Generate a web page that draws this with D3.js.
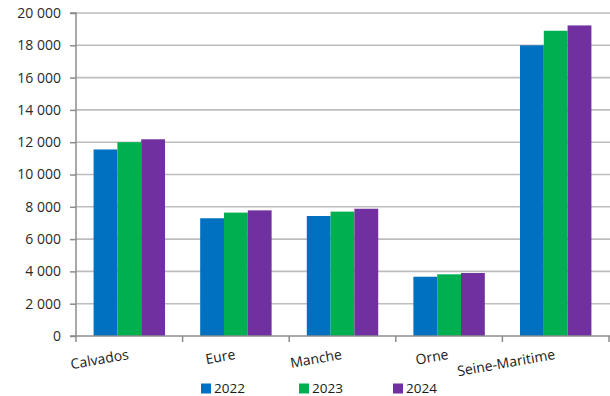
<!DOCTYPE html>
<html><head><meta charset="utf-8">
<script src="https://cdn.jsdelivr.net/npm/d3@7"></script>
<style>
html,body{margin:0;padding:0;background:#fff;}
svg{display:block;font-family:"Open Sans",Lato,sans-serif;}
</style></head>
<body>
<script>
const categories = ["Calvados","Eure","Manche","Orne","Seine-Maritime"];
const series = ["2022","2023","2024"];
const values2022 = [11550, 7290, 7430, 3670, 18000];
const values2023 = [12000, 7640, 7700, 3820, 18900];
const values2024 = [12180, 7780, 7880, 3900, 19230];
const yTicks = [0,2000,4000,6000,8000,10000,12000,14000,16000,18000,20000];
const colors = ["#0070C0","#00B050","#7030A0"];

const W=610,H=396;
const mLeft=76,mRight=609,mTop=13,mBottom=336;
const svg=d3.select("body").append("svg").attr("width",W).attr("height",H);

const x=d3.scaleBand().domain(categories).range([mLeft,mRight]).paddingInner(0.33).paddingOuter(0.165);
const xs=d3.scaleBand().domain(series).range([0,x.bandwidth()]);
const y=d3.scaleLinear().domain([0,20000]).range([mBottom,mTop]);
const data=[values2022,values2023,values2024];

// gridlines
svg.append("g").selectAll("line").data(yTicks.filter(d=>d>0)).join("line")
  .attr("x1",mLeft).attr("x2",W).attr("y1",d=>y(d)).attr("y2",d=>y(d))
  .attr("stroke","#bdbdbd").attr("stroke-width",1.6);

// bars
categories.forEach((c,i)=>{
  series.forEach((s,j)=>{
    svg.append("rect").attr("x",x(c)+xs(s)).attr("width",xs.bandwidth())
      .attr("y",y(data[j][i])).attr("height",y(0)-y(data[j][i]))
      .attr("fill",colors[j]);
  });
});

// y axis
const ya=d3.axisLeft(y).tickValues(yTicks).tickSize(6).tickPadding(9)
  .tickFormat(d=>d3.format(",")(d).replace(/,/g,"\u00a0"));
const gy=svg.append("g").attr("transform",`translate(${mLeft},0)`).call(ya);
gy.select(".domain").attr("stroke","#8c8c8c").attr("stroke-width",1.5).attr("d",`M-6,${mTop}H0V${mBottom}H-6`);
gy.selectAll(".tick line").attr("stroke","#8c8c8c").attr("stroke-width",1.5);
gy.selectAll(".tick text").attr("fill","#2a2a2a").style("font-size","14px").style("font-family","'Open Sans',sans-serif");

// x axis
const gx=svg.append("g");
gx.append("line").attr("x1",mLeft).attr("x2",W).attr("y1",mBottom).attr("y2",mBottom).attr("stroke","#8c8c8c").attr("stroke-width",1.5);
const tickPos=[mLeft,...categories.map(c=>x(c)+x.bandwidth()/2+x.step()/2)];
gx.selectAll("line.t").data(tickPos).join("line").attr("class","t")
  .attr("x1",d=>d).attr("x2",d=>d).attr("y1",mBottom).attr("y2",mBottom+6).attr("stroke","#8c8c8c").attr("stroke-width",1.5);
gx.selectAll("text").data(categories).join("text")
  .attr("transform",d=>`translate(${x(d)+x.bandwidth()/2},359) rotate(-10)`)
  .attr("text-anchor","end").attr("fill","#1a1a1a").style("font-size","14px").text(d=>d);

// legend
const lx=[201,299,393];
series.forEach((s,j)=>{
  svg.append("rect").attr("x",lx[j]).attr("y",383.5).attr("width",10).attr("height",10).attr("fill",colors[j]);
  svg.append("text").attr("x",lx[j]+13).attr("y",392.5).attr("fill","#1a1a1a").style("font-size","13.5px").text(s);
});
</script>
</body></html>
